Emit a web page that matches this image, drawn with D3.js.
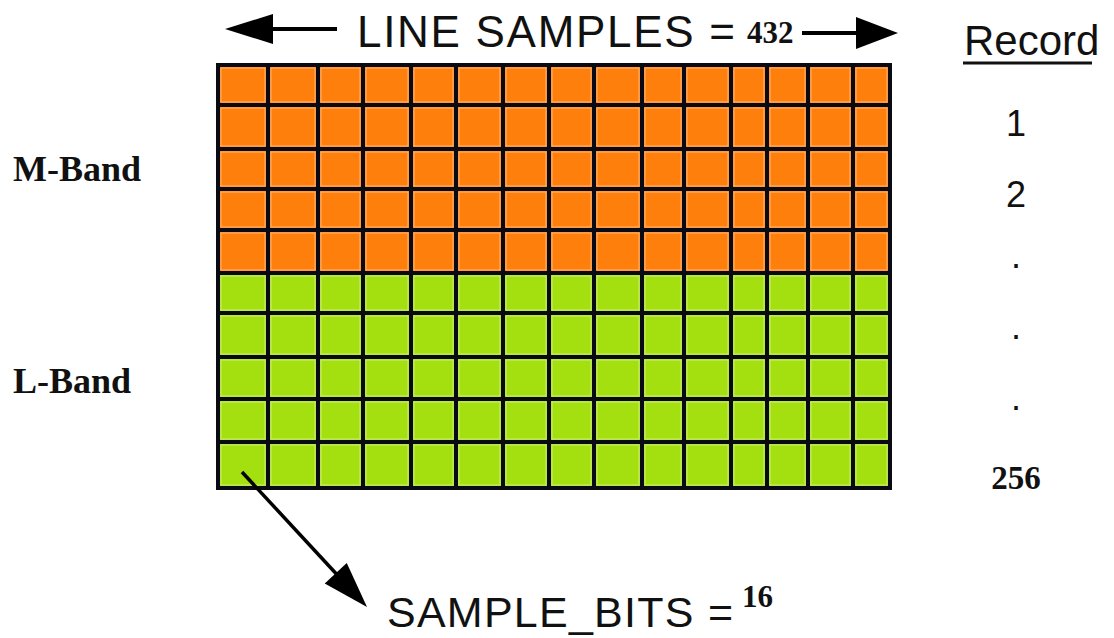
<!DOCTYPE html>
<html>
<head>
<meta charset="utf-8">
<script src="https://cdnjs.cloudflare.com/ajax/libs/d3/7.8.5/d3.min.js"></script>
<style>
	body { margin: 0; background: #fff; }
	svg { display: block; }
</style>
</head>
<body>
<svg id="diag" width="1114" height="638"></svg>
<script>
// values
var lineSamples = 432;
var sampleBits = 16;
var bands = ["M-Band", "L-Band"];
var bandRows = [5, 5];
var bandColors = ["#fe7f0c", "#a4e010"];
var colWidths = [50, 50, 45, 48, 45, 47, 46, 45, 48, 42, 47, 36, 41, 45, 37];
var rowHeights = [40, 44, 40, 41, 43, 40, 44, 42, 43, 46];
var recordLabels = ["1", "2", ".", ".", ".", "256"];

var svg = d3.select("svg#diag");
var sans = "'Liberation Sans', Arial, sans-serif";
var serif = "'Liberation Serif', 'Times New Roman', serif";

var colEdges = [0], rowEdges = [0];
colWidths.forEach(function(w, i){ colEdges.push(colEdges[i] + w); });
rowHeights.forEach(function(h, i){ rowEdges.push(rowEdges[i] + h); });

var x = d3.scaleLinear().domain([0, d3.sum(colWidths)]).range([218, 890]);
var y = d3.scaleLinear().domain([0, d3.sum(rowHeights)]).range([65, 488]);

// which band each row belongs to
var rowBand = [];
bandRows.forEach(function(n, b){ for (var k = 0; k < n; k++) rowBand.push(b); });

var cells = [];
rowHeights.forEach(function(h, r){
	colWidths.forEach(function(w, c){
		cells.push({r: r, c: c, band: rowBand[r]});
	});
});

var g = svg.append("g");
g.selectAll("rect.cell")
	.data(cells)
	.enter()
	.append("rect")
	.attr("class", "cell")
	.attr("x", function(d){ return x(colEdges[d.c]); })
	.attr("y", function(d){ return y(rowEdges[d.r]); })
	.attr("width", function(d){ return x(colEdges[d.c + 1]) - x(colEdges[d.c]); })
	.attr("height", function(d){ return y(rowEdges[d.r + 1]) - y(rowEdges[d.r]); })
	.style("fill", function(d){ return bandColors[d.band]; });

// faint light bevel inside each cell
g.selectAll("rect.bevel")
	.data(cells)
	.enter()
	.append("rect")
	.attr("class", "bevel")
	.attr("x", function(d){ return x(colEdges[d.c]) + 3; })
	.attr("y", function(d){ return y(rowEdges[d.r]) + 3; })
	.attr("width", function(d){ return x(colEdges[d.c + 1]) - x(colEdges[d.c]) - 6; })
	.attr("height", function(d){ return y(rowEdges[d.r + 1]) - y(rowEdges[d.r]) - 6; })
	.style("fill", "none")
	.style("stroke", "rgba(255,255,255,0.45)")
	.style("stroke-width", 1);

g.selectAll("line.v")
	.data(colEdges)
	.enter()
	.append("line")
	.attr("x1", function(d){ return x(d); })
	.attr("x2", function(d){ return x(d); })
	.attr("y1", y(0) - 2)
	.attr("y2", y(rowEdges[rowEdges.length - 1]) + 2)
	.style("stroke", "#0a0a12")
	.style("stroke-width", 4);

g.selectAll("line.h")
	.data(rowEdges)
	.enter()
	.append("line")
	.attr("x1", x(0) - 2)
	.attr("x2", x(colEdges[colEdges.length - 1]) + 2)
	.attr("y1", function(d){ return y(d); })
	.attr("y2", function(d){ return y(d); })
	.style("stroke", "#0a0a12")
	.style("stroke-width", 4);

// band labels on the left
var bandStart = 0;
bands.forEach(function(name, b){
	var r0 = bandStart, r1 = bandStart + bandRows[b];
	bandStart = r1;
	var yc = (y(rowEdges[r0]) + y(rowEdges[r1])) / 2;
	svg.append("text")
		.attr("x", 13)
		.attr("y", yc + 12)
		.style("font-family", serif)
		.style("font-weight", "bold")
		.style("font-size", "36px")
		.style("fill", "#111")
		.text(name);
});

// top: LINE SAMPLES arrow
function arrowHead(tip, dir, len, half){
	// dir: unit vector from base to tip
	var bx = tip[0] - dir[0]*len, by = tip[1] - dir[1]*len;
	var nx = -dir[1], ny = dir[0];
	return [tip, [bx + nx*half, by + ny*half], [bx - nx*half, by - ny*half]];
}
var ann = svg.append("g");
ann.append("line").attr("x1", 262).attr("x2", 337).attr("y1", 29).attr("y2", 29)
	.style("stroke", "#000").style("stroke-width", 4);
ann.append("polygon").attr("points", arrowHead([x(0) + 7, 29], [-1, 0], 48, 15).join(" ")).style("fill", "#000");
ann.append("line").attr("x1", 802).attr("x2", 862).attr("y1", 33).attr("y2", 33)
	.style("stroke", "#000").style("stroke-width", 4);
ann.append("polygon").attr("points", arrowHead([x(d3.sum(colWidths)) + 8, 33], [1, 0], 42, 16).join(" ")).style("fill", "#000");

ann.append("text")
	.attr("x", 357).attr("y", 47)
	.attr("textLength", 378).attr("lengthAdjust", "spacing")
	.style("font-family", sans).style("font-size", "44px").style("fill", "#111")
	.text("LINE SAMPLES =");
ann.append("text")
	.attr("x", 747).attr("y", 43)
	.style("font-family", serif).style("font-weight", "bold").style("font-size", "31px").style("fill", "#111")
	.text(lineSamples);

// record column
svg.append("text")
	.attr("x", 964).attr("y", 55)
	.style("font-family", sans).style("font-size", "42px").style("fill", "#111")
	.text("Record");
svg.append("line").attr("x1", 963).attr("x2", 1092).attr("y1", 63).attr("y2", 63)
	.style("stroke", "#111").style("stroke-width", 3);

var ry = d3.scalePoint().domain(d3.range(recordLabels.length)).range([123, 477]);
svg.selectAll("text.rec")
	.data(recordLabels)
	.enter()
	.append("text")
	.attr("class", "rec")
	.attr("x", 1016)
	.attr("y", function(d, i){ return ry(i); })
	.attr("dy", function(d){ return d === "." ? "0.1em" : "0.36em"; })
	.attr("text-anchor", "middle")
	.style("font-family", function(d){ return d === "256" ? serif : sans; })
	.style("font-weight", function(d){ return d === "256" ? "bold" : "normal"; })
	.style("font-size", function(d){ return d === "256" ? "33px" : "36px"; })
	.style("fill", "#111")
	.text(function(d){ return d; });

// bottom: SAMPLE_BITS arrow from first cell
var start = [242, 472], tip = [367, 607];
var dx = tip[0] - start[0], dy = tip[1] - start[1], dl = Math.sqrt(dx*dx + dy*dy);
var u = [dx/dl, dy/dl];
ann.append("line")
	.attr("x1", start[0]).attr("y1", start[1])
	.attr("x2", tip[0] - u[0]*30).attr("y2", tip[1] - u[1]*30)
	.style("stroke", "#000").style("stroke-width", 3.5);
ann.append("polygon").attr("points", arrowHead(tip, u, 46, 15).join(" ")).style("fill", "#000");

ann.append("text")
	.attr("x", 387).attr("y", 627)
	.attr("textLength", 346).attr("lengthAdjust", "spacing")
	.style("font-family", sans).style("font-size", "43px").style("fill", "#111")
	.text("SAMPLE_BITS =");
ann.append("text")
	.attr("x", 742).attr("y", 607)
	.style("font-family", serif).style("font-weight", "bold").style("font-size", "31px").style("fill", "#111")
	.text(sampleBits);
</script>
</body>
</html>
